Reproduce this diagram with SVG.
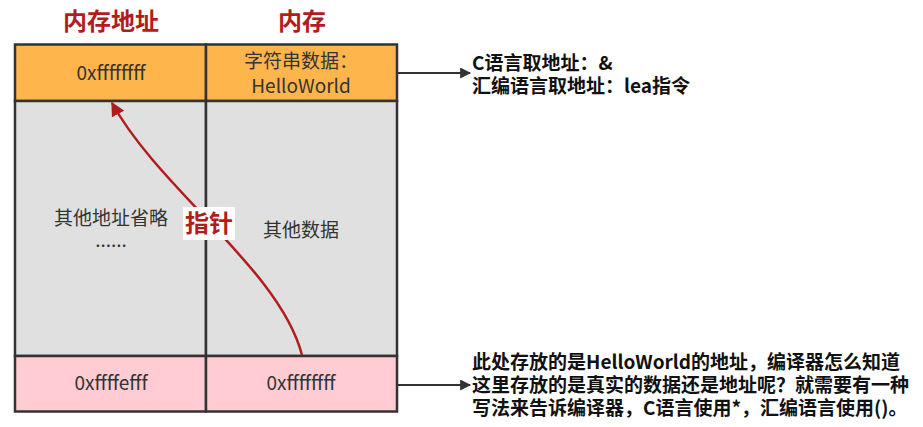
<svg xmlns="http://www.w3.org/2000/svg" width="923" height="427" viewBox="0 0 923 427">
<style>
.title{font-family:"Noto Sans CJK SC","Liberation Sans",sans-serif;font-size:24px;font-weight:bold;fill:#b21c1c;text-anchor:middle}
.cell{stroke:#333;stroke-width:2.5}
.t{font-family:"Noto Sans CJK SC","Liberation Sans",sans-serif;font-size:19px;fill:#333;text-anchor:middle}
.note{font-family:"Noto Sans CJK SC","Liberation Sans",sans-serif;font-size:19px;font-weight:bold;fill:#111}
.conn{stroke:#333;stroke-width:2;fill:none}
</style>
<defs>
<marker id="ah" viewBox="0 0 10 10" refX="9" refY="5" markerWidth="12" markerHeight="11" markerUnits="userSpaceOnUse" orient="auto"><path d="M0,0 L10,5 L0,10 z" fill="#333"/></marker>
<marker id="rh" viewBox="0 0 10 10" refX="9" refY="5" markerWidth="14" markerHeight="14" markerUnits="userSpaceOnUse" orient="auto"><path d="M0,0 L10,5 L0,10 z" fill="#b21c1c"/></marker>
</defs>
<rect width="923" height="427" fill="#fff"/>
<text class="title" x="111" y="30">内存地址</text>
<text class="title" x="302" y="30">内存</text>
<g id="addr-top"><rect class="cell" x="15" y="44.5" width="191" height="56.5" fill="#feb54c"/><text class="t" x="111" y="80">0xffffffff</text></g>
<g id="mem-top"><rect class="cell" x="206" y="44.5" width="191" height="56.5" fill="#feb54c"/><text class="t" x="301" y="68">字符串数据：</text><text class="t" x="301" y="93">HelloWorld</text></g>
<g id="addr-mid"><rect class="cell" x="15" y="101" width="191" height="255" fill="#e0e0e0"/><text class="t" x="111" y="225">其他地址省略</text><text class="t" x="111" y="247">......</text></g>
<g id="mem-mid"><rect class="cell" x="206" y="101" width="191" height="255" fill="#e0e0e0"/><text class="t" x="301" y="237">其他数据</text></g>
<g id="addr-bot"><rect class="cell" x="15" y="356" width="191" height="55.5" fill="#ffccd3"/><text class="t" x="111" y="390">0xffffefff</text></g>
<g id="mem-bot"><rect class="cell" x="206" y="356" width="191" height="55.5" fill="#ffccd3"/><text class="t" x="301" y="390">0xffffffff</text></g>
<g id="connectors">
<line class="conn" x1="397" y1="73" x2="470" y2="73" marker-end="url(#ah)"/>
<line class="conn" x1="397" y1="385" x2="470" y2="385" marker-end="url(#ah)"/>
<path d="M302,355 C280,270 160,190 112,103" stroke="#b21c1c" stroke-width="2.5" fill="none" marker-end="url(#rh)"/>
<rect x="183" y="207" width="52" height="33" fill="#fff"/>
<text x="209" y="232" style="font-family:'Noto Sans CJK SC','Liberation Sans',sans-serif;font-size:24px;font-weight:bold;fill:#b21c1c;text-anchor:middle">指针</text>
</g>
<g id="note-top">
<text class="note" x="472" y="70">C语言取地址：&amp;</text>
<text class="note" x="472" y="93">汇编语言取地址：lea指令</text>
</g>
<g id="note-bot">
<text class="note" x="472" y="369">此处存放的是HelloWorld的地址，编译器怎么知道</text>
<text class="note" x="472" y="392">这里存放的是真实的数据还是地址呢？就需要有一种</text>
<text class="note" x="472" y="415">写法来告诉编译器，C语言使用*，汇编语言使用()。</text>
</g>
</svg>
